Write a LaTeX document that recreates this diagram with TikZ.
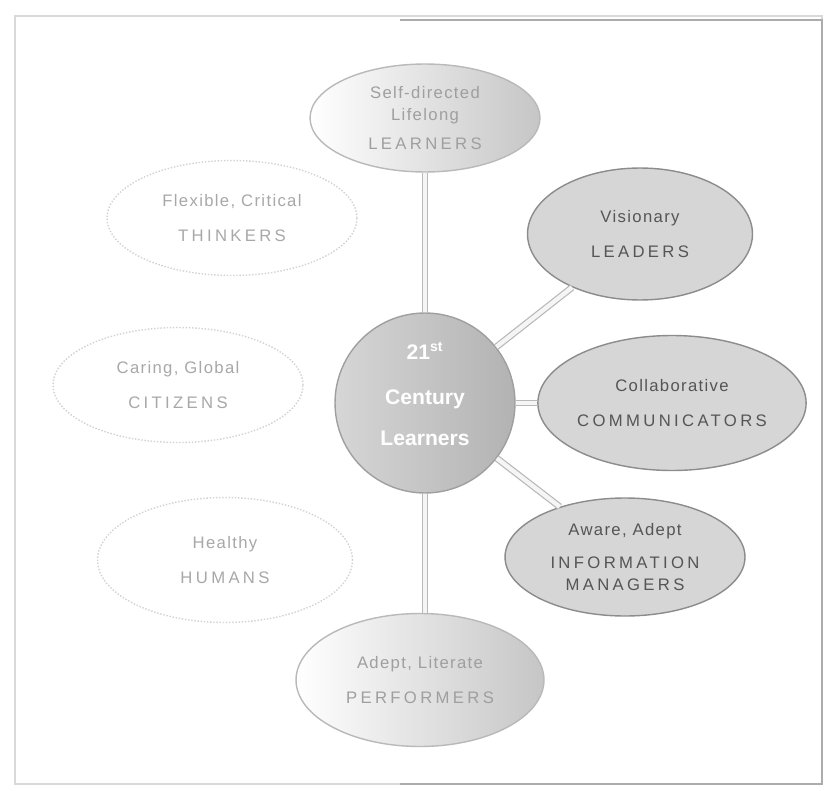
\documentclass[tikz,border=0pt]{standalone}
\usepackage{fontspec}
\setmainfont{Liberation Sans}
\usepackage{tikz}
\usetikzlibrary{shapes.geometric}
\definecolor{inkgray}{HTML}{555555}
\definecolor{fadegray}{HTML}{A8A8A8}
\definecolor{fillgray}{HTML}{D6D6D6}
\definecolor{rimgray}{HTML}{8C8C8C}
\newcommand{\caps}[1]{{\addfontfeature{LetterSpace=20}#1}}
\newcommand{\soft}[1]{{\addfontfeature{LetterSpace=8}#1}}

\begin{document}
\begin{tikzpicture}[
  x=0.02cm, y=-0.02cm, font=\fontsize{9.5}{11.4}\selectfont,
  oval/.style={ellipse, inner sep=0pt, align=center, text=inkgray,
               draw=rimgray, line width=0.8pt},
  greyoval/.style={oval, fill=fillgray},
  halfoval/.style={oval, left color=white, right color=gray!45, draw=gray!55, text=gray!75},
  fadeoval/.style={oval, fill=white, draw=gray!35, densely dotted, text=fadegray},
  hub/.style={circle, minimum size=3.6cm, inner sep=0pt, align=center,
              left color=gray!32, right color=gray!60, draw=gray!75, line width=0.8pt,
              text=white, font=\fontsize{12}{14.4}\selectfont\bfseries},
  link/.style={draw=gray!55, double=gray!8, double distance=2.5pt, line width=0.7pt},
  boxline/.style={draw=gray!30, line width=0.6pt}
]
\useasboundingbox (0,0) rectangle (827,790);

% frame
\draw[boxline] (15,16) rectangle (822,784);
\draw[gray!65, line width=1.4pt] (400,20) -- (822,20) -- (822,784) -- (400,784);

% centre
\node[hub] (hub) at (425,403) {21\textsuperscript{st}\\[11pt] Century\\[9pt] Learners\\[-4pt]\mbox{}};

% left side (faded)
\node[halfoval, minimum width=4.6cm, minimum height=2.16cm] (learn) at (425,118)
  {\soft{Self-directed}\\[1pt] \soft{Lifelong}\\[5pt] \caps{LEARNERS}};
\node[fadeoval, minimum width=5cm, minimum height=2.3cm] (think) at (232,218)
  {\soft{Flexible, Critical}\\[8pt] \caps{THINKERS}};
\node[fadeoval, minimum width=5cm, minimum height=2.3cm] (citizen) at (178,385)
  {\soft{Caring, Global}\\[8pt] \caps{CITIZENS}};
\node[fadeoval, minimum width=5.1cm, minimum height=2.5cm] (human) at (225,560)
  {\soft{Healthy}\\[8pt] \caps{HUMANS}};
\node[halfoval, minimum width=4.96cm, minimum height=2.66cm] (perform) at (420,680)
  {\soft{Adept, Literate}\\[8pt] \caps{PERFORMERS}};

% right side
\node[greyoval, minimum width=4.5cm, minimum height=2.64cm] (lead) at (640,234)
  {\soft{Visionary}\\[8pt] \caps{LEADERS}};
\node[greyoval, minimum width=4.94cm, minimum height=2.7cm] (comm) at (672,403)
  {\soft{Collaborative}\\[8pt] \caps{COMMUNICATORS}};
\node[greyoval, minimum width=4.8cm, minimum height=2.36cm] (info) at (625,557)
  {\soft{Aware, Adept}\\[7pt] \caps{INFORMATION}\\[1pt] \caps{MANAGERS}};

% links
\draw[link] (hub) -- (learn);
\draw[link] (hub) -- (lead);
\draw[link] (hub) -- (comm);
\draw[link] (hub) -- (info);
\draw[link] (hub.south) -- (hub.south |- perform.north);
\end{tikzpicture}
\end{document}
